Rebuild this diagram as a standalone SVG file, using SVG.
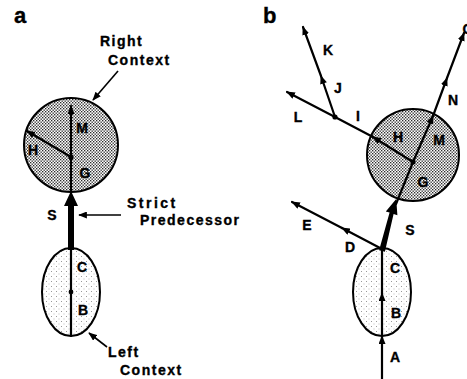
<svg xmlns="http://www.w3.org/2000/svg" width="467" height="379" viewBox="0 0 467 379">
<style>
text{font-family:"Liberation Sans",Arial,sans-serif;font-weight:bold;fill:#000;stroke:#000;stroke-width:0.35}
.lb{font-size:14px;text-anchor:middle}
.cap{font-size:14px;letter-spacing:1.5px}
.pl{font-size:22px}
.ln{stroke:#000;stroke-width:2.2;fill:none;stroke-linecap:round}
.an{stroke:#000;stroke-width:1.6;fill:none}
.dense{fill:url(#stip);stroke:#000;stroke-width:2}
.light{fill:url(#stip2);stroke:#000;stroke-width:2}
</style>
<defs>
<pattern id="stip" width="3" height="3" patternUnits="userSpaceOnUse">
<rect width="3" height="3" fill="#fff"/>
<rect x="0" y="0" width="1.35" height="1.35" fill="#2a2a2a"/>
<rect x="1.5" y="1.5" width="1.35" height="1.35" fill="#2a2a2a"/>
</pattern>
<pattern id="stip2" width="5" height="5" patternUnits="userSpaceOnUse">
<rect width="5" height="5" fill="#fff"/>
<rect x="1" y="1" width="1" height="1" fill="#999"/>
<rect x="3.5" y="3.5" width="1" height="1" fill="#bbb"/>
</pattern>
<marker id="ah" viewBox="0 0 10 8" refX="9" refY="4" markerWidth="9" markerHeight="7" markerUnits="userSpaceOnUse" orient="auto">
<path d="M0,0 L10,4 L0,8 z" fill="#000"/>
</marker>
</defs>

<text class="pl" x="14" y="23">a</text>
<text class="pl" x="263" y="23">b</text>

<g id="a-right-context">
<circle class="dense" cx="71" cy="145" r="47"/>
</g>
<g id="a-left-context">
<ellipse class="light" cx="71" cy="292" rx="29" ry="44"/>
</g>
<g id="b-right-context">
<circle class="dense" cx="413" cy="155" r="46"/>
</g>
<g id="b-left-context">
<ellipse class="light" cx="382" cy="292" rx="29" ry="44"/>
</g>

<g id="connectors">
<!-- panel a -->
<line class="ln" x1="71" y1="193" x2="71" y2="157"/>
<line class="ln" x1="71" y1="157" x2="71" y2="106" marker-end="url(#ah)"/>
<line class="ln" x1="71" y1="157" x2="27" y2="131" marker-end="url(#ah)"/>
<circle cx="71" cy="157" r="2.6" fill="#000"/>
<path d="M68,250 L68,206 L64,206 L71,191 L78,206 L74,206 L74,250 z" fill="#000"/>
<line class="ln" x1="71" y1="336" x2="71" y2="250"/>
<circle cx="71" cy="292" r="2.4" fill="#000"/>
<line class="an" x1="118" y1="71" x2="93" y2="100" marker-end="url(#ah)"/>
<line class="an" x1="121" y1="215" x2="79" y2="215" marker-end="url(#ah)"/>
<line class="an" x1="107" y1="347" x2="89" y2="333" marker-end="url(#ah)"/>

<!-- panel b -->
<line class="ln" x1="382" y1="379" x2="382" y2="336" marker-end="url(#ah)"/>
<line class="ln" x1="382" y1="336" x2="382" y2="293" marker-end="url(#ah)"/>
<line class="ln" x1="382" y1="293" x2="382" y2="249"/>
<path d="M379.1,250.2 L389.6,212.6 L385.8,211.5 L396.2,199 L397.4,215.2 L393.6,214.1 L384.9,251.8 z" fill="#000"/>
<line class="ln" x1="396" y1="204" x2="413" y2="162"/>
<circle cx="413" cy="162" r="2.6" fill="#000"/>
<line class="ln" x1="413" y1="162" x2="433" y2="116" marker-end="url(#ah)"/>
<line class="ln" x1="433" y1="116" x2="447" y2="78" marker-end="url(#ah)"/>
<line class="ln" x1="447" y1="78" x2="464" y2="33" marker-end="url(#ah)"/>
<line class="ln" x1="413" y1="162" x2="373" y2="137" marker-end="url(#ah)"/>
<line class="ln" x1="373" y1="137" x2="335" y2="117"/>
<circle cx="335" cy="117" r="2.6" fill="#000"/>
<line class="ln" x1="335" y1="117" x2="287" y2="92" marker-end="url(#ah)"/>
<line class="ln" x1="335" y1="117" x2="321" y2="76" marker-end="url(#ah)"/>
<line class="ln" x1="321" y1="76" x2="303" y2="27" marker-end="url(#ah)"/>
<line class="ln" x1="382" y1="249" x2="342" y2="228" marker-end="url(#ah)"/>
<line class="ln" x1="342" y1="228" x2="292" y2="202" marker-end="url(#ah)"/>
</g>

<g id="labels-a">
<text class="cap" x="100" y="46">Right</text>
<text class="cap" x="108" y="65">Context</text>
<text class="cap" x="127" y="208" style="letter-spacing:2.5px">Strict</text>
<text class="cap" x="140" y="225">Predecessor</text>
<text class="cap" x="108" y="357">Left</text>
<text class="cap" x="120" y="375">Context</text>
<text class="lb" x="82" y="133">M</text>
<text class="lb" x="33" y="155">H</text>
<text class="lb" x="85" y="178">G</text>
<text class="lb" x="52" y="220">S</text>
<text class="lb" x="82" y="272">C</text>
<text class="lb" x="83" y="315">B</text>
</g>
<g id="labels-b">
<text class="lb" x="328" y="55">K</text>
<text class="lb" x="338" y="93">J</text>
<text class="lb" x="298" y="122">L</text>
<text class="lb" x="358" y="121">I</text>
<text class="lb" x="398" y="142">H</text>
<text class="lb" x="439" y="145">M</text>
<text class="lb" x="423" y="187">G</text>
<text class="lb" x="453" y="105">N</text>
<text class="lb" x="468" y="34">O</text>
<text class="lb" x="307" y="230">E</text>
<text class="lb" x="350" y="252">D</text>
<text class="lb" x="410" y="235">S</text>
<text class="lb" x="395" y="273">C</text>
<text class="lb" x="396" y="318">B</text>
<text class="lb" x="395" y="362">A</text>
</g>
</svg>
